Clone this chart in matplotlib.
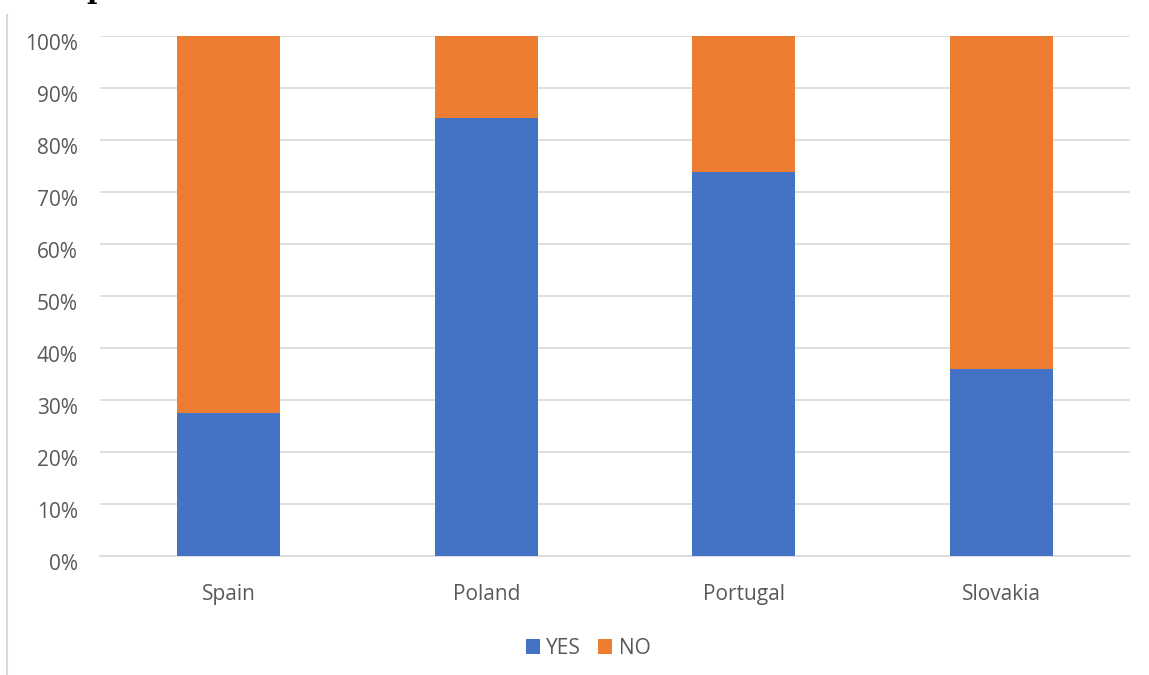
import matplotlib.pyplot as plt
import matplotlib.transforms as mtransforms
import numpy as np

countries = ['Spain', 'Poland', 'Portugal', 'Slovakia']
yes_share = [27.5, 84.2, 73.8, 36.0]
no_share = [100 - v for v in yes_share]
y_ticks = list(range(0, 101, 10))

BLUE = '#4472C4'
ORANGE = '#ED7D31'
GRID = '#D9D9D9'
TEXT = '#595959'


def main():
  plt.rcParams['font.family'] = ['Open Sans', 'DejaVu Sans']
  fig = plt.figure(figsize=(11.49, 6.75), dpi=100)
  ax = fig.add_axes([100/1149, 1 - 556/675, 1030/1149, 520/675])

  x = np.arange(len(countries))
  ax.bar(x, yes_share, width=0.4, color=BLUE, label='YES', zorder=3)
  ax.bar(x, no_share, width=0.4, bottom=yes_share, color=ORANGE, label='NO', zorder=3)

  ax.set_xlim(-0.5, len(countries) - 0.5)
  ax.set_ylim(0, 100)
  ax.set_yticks(y_ticks)
  ax.set_yticklabels([f'{t}%' for t in y_ticks])
  ax.set_xticks(x)
  ax.set_xticklabels(countries)
  ax.tick_params(axis='both', length=0, labelsize=15, labelcolor=TEXT)
  ax.tick_params(axis='y', pad=16)
  ax.tick_params(axis='x', pad=20)
  # y labels sit a little below their grid lines
  shift = mtransforms.ScaledTranslation(0, -6/100, fig.dpi_scale_trans)
  for lbl in ax.get_yticklabels():
    lbl.set_transform(lbl.get_transform() + shift)
  ax.grid(axis='y', color=GRID, linewidth=1.2, zorder=0)
  for side in ['top', 'right', 'left']:
    ax.spines[side].set_visible(False)
  ax.spines['bottom'].set_color(GRID)
  ax.spines['bottom'].set_linewidth(1.2)

  ax.legend(loc='center', bbox_to_anchor=(588/1149, 1 - 648/675),
            bbox_transform=fig.transFigure, ncol=2, frameon=False,
            fontsize=15, labelcolor=TEXT, handlelength=0.7, handleheight=0.7,
            handletextpad=0.3, columnspacing=0.8)

  # left frame line of the surrounding box
  fig.add_artist(plt.Line2D([7/1149, 7/1149], [0, 1 - 15/675],
                            transform=fig.transFigure, color=GRID, linewidth=1.5))
  # heading above the chart, mostly outside the canvas
  fig.text(86/1149, 1 + 2/675, 'p', family='DejaVu Serif', fontweight='bold',
           fontsize=20, color='black', va='baseline')

  fig.savefig('out.png', dpi=100)


if __name__ == '__main__':
  main()
